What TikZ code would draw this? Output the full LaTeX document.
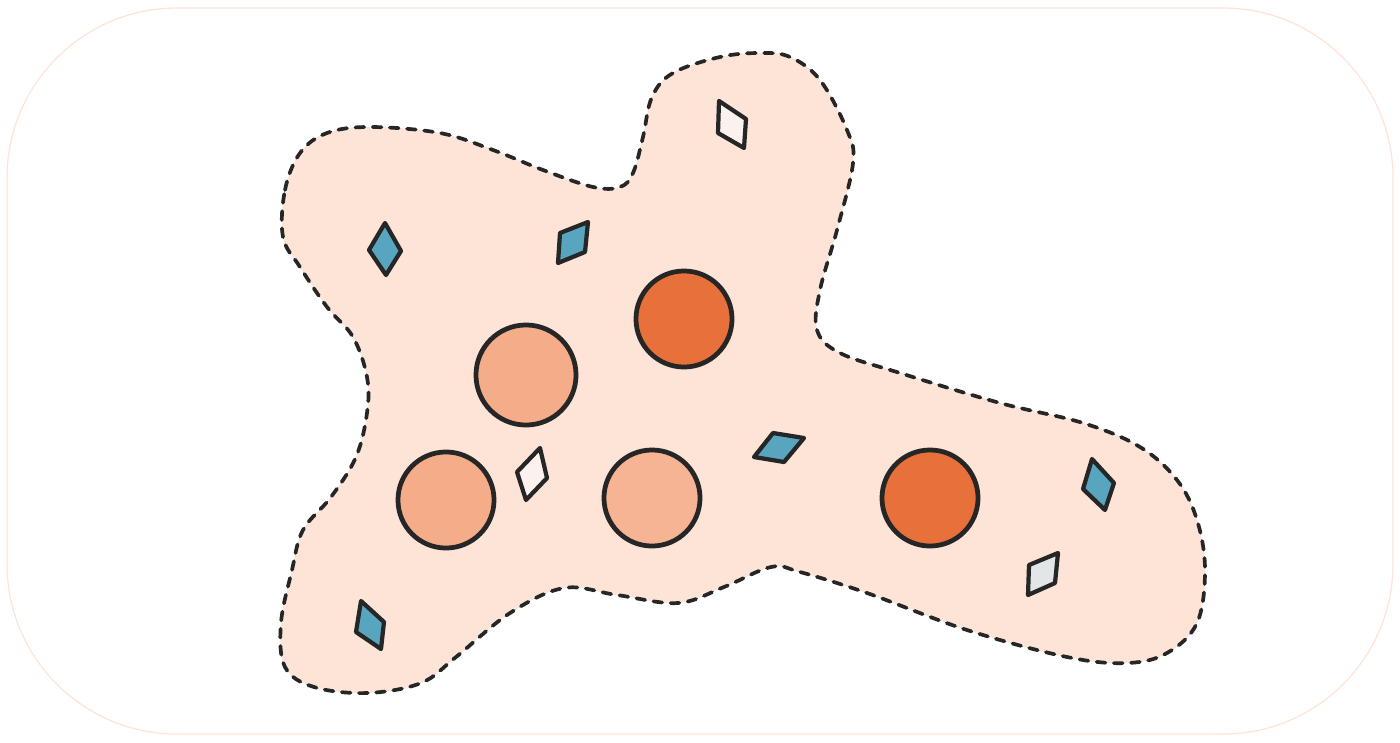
\documentclass[tikz,border=0pt]{standalone}
\usepackage{xcolor}
\usepackage{tikz}

\definecolor{blobfill}{RGB}{253,228,214}
\definecolor{inkgray}{RGB}{38,38,38}
\definecolor{deeporange}{RGB}{232,112,58}
\definecolor{salmon}{RGB}{244,172,137}
\definecolor{palesalmon}{RGB}{246,180,148}
\definecolor{tealblue}{RGB}{87,165,190}
\definecolor{paleshard}{RGB}{252,242,237}
\definecolor{frostshard}{RGB}{226,230,231}

\begin{document}
\begin{tikzpicture}[
  x=0.01cm, y=-0.01cm,
  frame/.style={draw=blobfill, line width=0.35pt, rounded corners=1.7cm},
  blob/.style={draw=inkgray, fill=blobfill, line width=1.05pt, line cap=round, dash pattern=on 2.5pt off 2.4pt},
  cell/.style={circle, draw=inkgray, line width=1.35pt, inner sep=0pt, minimum size=0.96cm},
  gem/.style={draw=inkgray, line width=1.2pt, line join=round}
]
\useasboundingbox (0,0) rectangle (1400,742);
\draw[frame] (7,8) rectangle (1393,734);

% region outline
\draw[blob] plot[smooth cycle, tension=0.6] coordinates {
  (283,237) (285,190) (300,153) (327,133) (370,127) (440,133) (493,150)
  (543,170) (593,187) (620,187) (633,173) (643,137) (652,97) (673,73)
  (720,57) (760,53) (790,57) (820,80) (847,130) (853,163) (837,230)
  (820,290) (817,330) (840,353) (900,373) (1000,403) (1083,423)
  (1140,447) (1177,480) (1197,520) (1205,570) (1197,623) (1167,653)
  (1127,663) (1067,657) (967,630) (867,593) (800,572) (771,567)
  (724,587) (678,603) (617,595) (564,588) (510,613) (456,657) (421,683)
  (367,693) (314,687) (285,667) (281,623) (292,570) (303,530) (331,497)
  (356,457) (367,413) (367,377) (353,337) (327,307) (300,267)};

% cells
\node[cell, fill=deeporange] (topcell) at (684,319) {};
\node[cell, fill=salmon, minimum size=1cm] (leftcell) at (526,375) {};
\node[cell, fill=salmon] (lowcell) at (446,500) {};
\node[cell, fill=palesalmon] (midcell) at (652,498) {};
\node[cell, fill=deeporange] (rightcell) at (930,498) {};

% shards
\draw[gem, fill=tealblue] (385,223) -- (401,251) -- (386,275) -- (369,250) -- cycle;
\draw[gem, fill=tealblue] (588,222) -- (585,252) -- (558,263) -- (560,233) -- cycle;
\draw[gem, fill=paleshard] (719,101) -- (746,119) -- (744,148) -- (718,133) -- cycle;
\draw[gem, fill=paleshard] (540,448) -- (547,478) -- (526,500) -- (517,472) -- cycle;
\draw[gem, fill=tealblue] (773,433) -- (804,438) -- (784,462) -- (754,457) -- cycle;
\draw[gem, fill=tealblue] (1092,459) -- (1114,483) -- (1105,510) -- (1083,489) -- cycle;
\draw[gem, fill=frostshard] (1058,553) -- (1055,583) -- (1028,595) -- (1029,565) -- cycle;
\draw[gem, fill=tealblue] (361,601) -- (384,622) -- (381,649) -- (356,632) -- cycle;
\end{tikzpicture}
\end{document}
